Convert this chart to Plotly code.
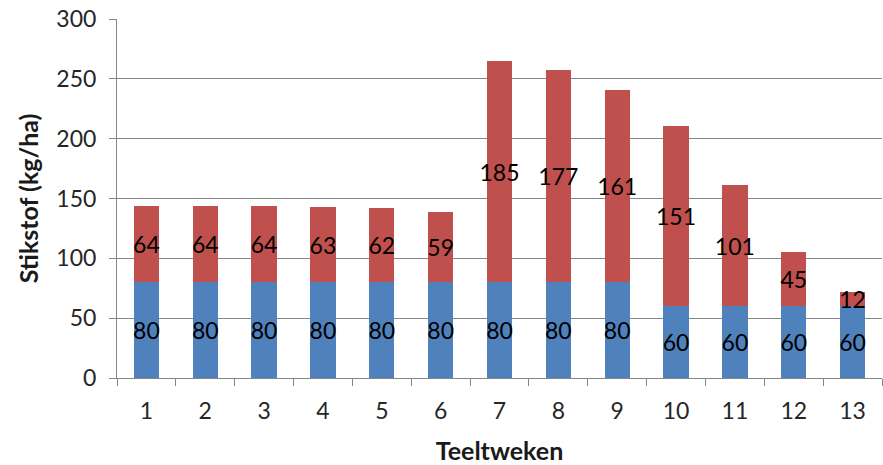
import plotly.graph_objects as go

weeks = [str(i) for i in range(1, 14)]
basis = [80, 80, 80, 80, 80, 80, 80, 80, 80, 60, 60, 60, 60]
extra = [64, 64, 64, 63, 62, 59, 185, 177, 161, 151, 101, 45, 12]
y_ticks = [0, 50, 100, 150, 200, 250, 300]

FONT = "Lato"
blue = "#4F81BD"
red = "#C0504D"
TICK = 23
LBL = 23
TITLE = 25

fig = go.Figure()
for vals, col in ((basis, blue), (extra, red)):
    fig.add_trace(go.Bar(x=weeks, y=vals, marker=dict(color=col, line=dict(width=0)),
                         text=vals, textposition="inside", insidetextanchor="middle",
                         textangle=0,
                         textfont=dict(color="black", size=LBL, family=FONT),
                         constraintext="none", hoverinfo="skip"))

fig.update_layout(
    barmode="stack",
    bargap=0.57,
    width=883, height=465,
    margin=dict(l=117, r=1, t=19, b=87, autoexpand=False),
    plot_bgcolor="white", paper_bgcolor="white",
    showlegend=False,
    font=dict(family=FONT, color="#333333", size=TICK),
    uniformtext=dict(minsize=LBL, mode="show"),
)
fig.update_xaxes(
    type="category", tickson="boundaries", ticks="outside", ticklen=7,
    tickcolor="#868686", showline=True, linecolor="#868686", linewidth=1,
    showgrid=False, tickfont=dict(size=TICK, family=FONT, color="#262626"),
    ticklabelstandoff=12, automargin=False,
    title=dict(text="<b>Teeltweken</b>", font=dict(size=TITLE, family=FONT, color="#1a1a1a"), standoff=20),
)
fig.update_yaxes(
    range=[0, 300], tickvals=y_ticks, ticks="outside", ticklen=7,
    tickcolor="#868686", showline=True, linecolor="#868686", linewidth=1,
    showgrid=True, gridcolor="#868686", gridwidth=1, zeroline=False,
    tickfont=dict(size=TICK, family=FONT, color="#262626"),
    ticklabelstandoff=8, ticklabeloverflow="allow", automargin=False,
    title=dict(text="<b>Stikstof (kg/ha)</b>", font=dict(size=TITLE, family=FONT, color="#1a1a1a"), standoff=10),
)

fig.write_html("out.html", config={"displayModeBar": False},
               post_script="document.body.style.margin='0';")
